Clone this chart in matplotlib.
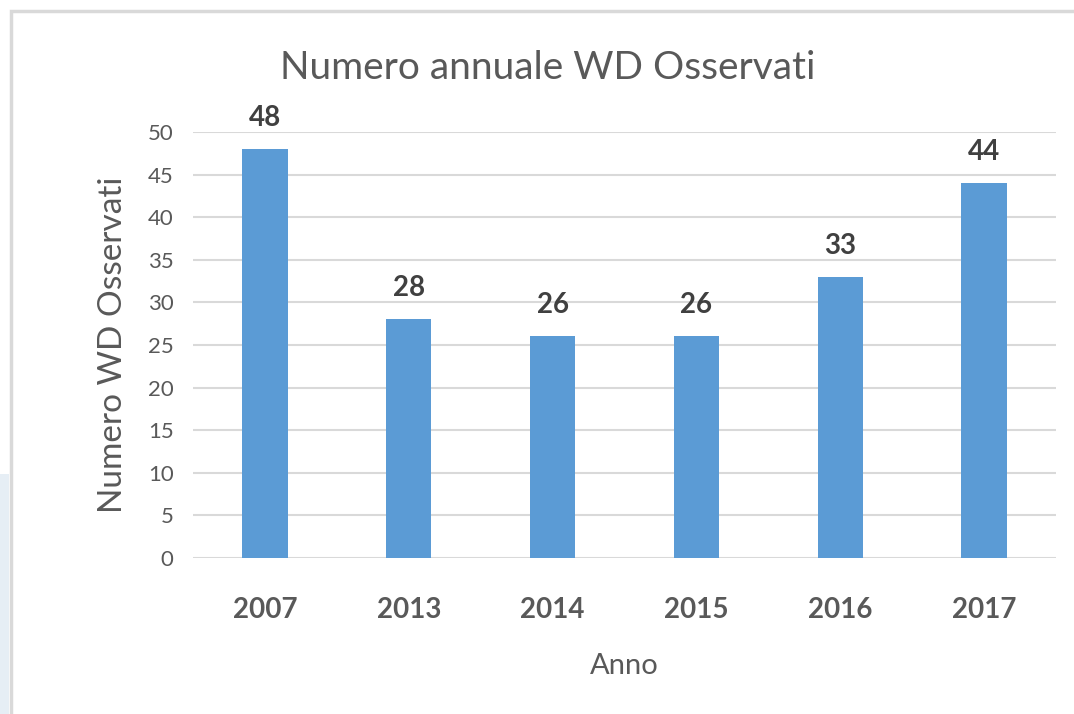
import matplotlib
matplotlib.use("Agg")
import matplotlib.pyplot as plt
from matplotlib.patches import Rectangle

# data
years = ["2007", "2013", "2014", "2015", "2016", "2017"]
counts = [48, 28, 26, 26, 33, 44]
yticks = list(range(0, 55, 5))

plt.rcParams['font.family'] = ['Lato', 'DejaVu Sans']

fig = plt.figure(figsize=(10.74, 7.14), dpi=100)
W, H = 1074, 714

# chart frame (light border, runs off the right/bottom of the picture)
fig.patches.append(Rectangle((11 / W, -0.05), 1.1, 1 - 11 / H + 0.05,
                             transform=fig.transFigure, fill=False,
                             edgecolor="#D9D9D9", linewidth=2.5))
# faint blue slide background peeking in at the left edge
fig.patches.append(Rectangle((0, 0), 9 / W, 240 / H, transform=fig.transFigure,
                             facecolor="#E6EEF5", edgecolor="none"))

# axes placed to match the plot area
ax = fig.add_axes([193 / W, 1 - 558 / H, (1056 - 193) / W, (558 - 132) / H])
x = range(len(years))
bars = ax.bar(x, counts, width=0.315, color="#5B9BD5", zorder=3)

ax.set_xlim(-0.5, len(years) - 0.5)
ax.set_ylim(0, 50)
ax.set_yticks(yticks)
ax.set_xticks(list(x))
ax.set_xticklabels(years, fontsize=20, fontweight="bold", color="#595959")
ax.tick_params(axis="y", labelsize=16, labelcolor="#595959", length=0, pad=14)
ax.tick_params(axis="x", length=0, pad=28)
ax.grid(axis="y", color="#D9D9D9", linewidth=1.5, zorder=0)
for s in ax.spines.values():
    s.set_visible(False)

for b, v in zip(bars, counts):
    ax.annotate(str(v), (b.get_x() + b.get_width() / 2, v),
                xytext=(0, 13), textcoords="offset points",
                ha="center", va="bottom", fontsize=20, fontweight="bold",
                color="#404040")

ax.set_ylabel("Numero WD Osservati", fontsize=24, color="#595959", labelpad=14)
ax.set_xlabel("Anno", fontsize=21, color="#595959", labelpad=22)

fig.text(548 / W, 1 - 68 / H, "Numero annuale WD Osservati", ha="center",
         va="center", fontsize=28, color="#595959")

fig.savefig("out.png", dpi=100)
